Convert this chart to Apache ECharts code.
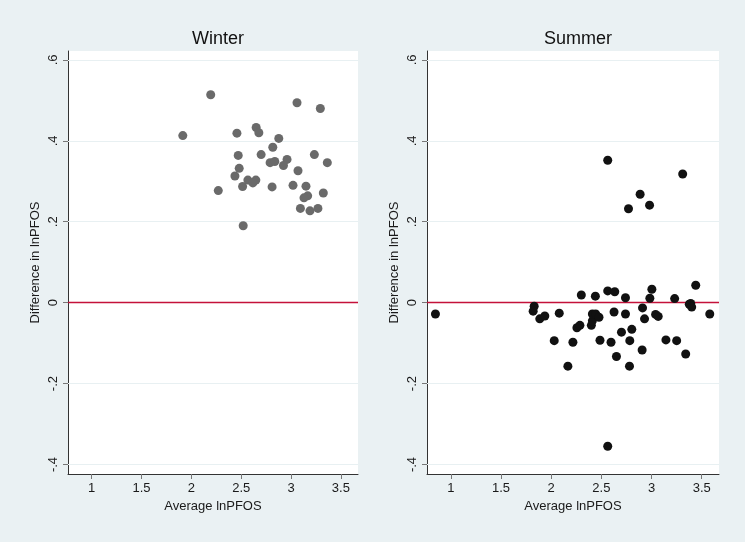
<!DOCTYPE html>
<html>
<head>
<meta charset="utf-8">
<script src="https://cdn.jsdelivr.net/npm/echarts@6/dist/echarts.min.js"></script>
<style>
html,body{margin:0;padding:0;background:#eaf1f3;}
#chart{width:745px;height:542px;}
</style>
</head>
<body>
<div id="chart"></div>
<script>
const panelTitles = ['Winter', 'Summer'];
const xTitle = 'Average lnPFOS';
const yTitle = 'Difference in lnPFOS';
const xTicks = [1, 1.5, 2, 2.5, 3, 3.5];
const yTicks = [-0.4, -0.2, 0, 0.2, 0.4, 0.6];

const winterX = [2.194, 3.06, 3.294, 1.914, 2.457, 2.65, 2.677, 2.877, 2.817, 2.47, 2.70, 3.234, 3.364, 2.79, 2.837, 2.96, 2.924, 2.48, 3.07, 2.437, 2.567, 2.647, 2.617, 2.514, 2.27, 2.81, 3.02, 3.15, 3.324, 3.167, 3.13, 3.094, 3.19, 3.27, 2.52];
const winterY = [0.514, 0.494, 0.480, 0.413, 0.419, 0.433, 0.420, 0.406, 0.384, 0.364, 0.366, 0.366, 0.346, 0.346, 0.349, 0.354, 0.339, 0.332, 0.326, 0.313, 0.303, 0.303, 0.296, 0.287, 0.277, 0.286, 0.290, 0.288, 0.271, 0.264, 0.259, 0.233, 0.227, 0.233, 0.190];

const summerX = [2.563, 3.31, 2.886, 2.77, 2.98, 3.44, 3.003, 2.563, 2.633, 2.30, 2.44, 2.74, 2.983, 3.23, 3.39, 3.376, 3.40, 3.58, 0.846, 1.83, 1.82, 1.886, 1.936, 2.08, 2.03, 2.216, 2.166, 2.256, 2.286, 2.40, 2.41, 2.41, 2.443, 2.476, 2.486, 2.596, 2.626, 2.65, 2.70, 2.74, 2.783, 2.803, 2.78, 2.91, 2.93, 2.906, 3.04, 3.066, 3.143, 3.25, 3.34, 2.563];
const summerY = [0.352, 0.318, 0.268, 0.232, 0.241, 0.043, 0.033, 0.029, 0.027, 0.019, 0.016, 0.012, 0.011, 0.010, -0.002, -0.004, -0.011, -0.028, -0.028, -0.009, -0.021, -0.040, -0.033, -0.026, -0.094, -0.098, -0.157, -0.062, -0.056, -0.056, -0.045, -0.028, -0.028, -0.036, -0.093, -0.098, -0.023, -0.133, -0.073, -0.028, -0.094, -0.066, -0.157, -0.013, -0.040, -0.117, -0.029, -0.034, -0.092, -0.094, -0.127, -0.355];

const FONT = "'Liberation Sans', Arial, Helvetica, sans-serif";
const zip = (xs, ys) => xs.map((x, i) => [x, ys[i]]);
const fmtY = v => {
  if (Math.abs(v) < 1e-9) return '0';
  let s = String(Math.round(v * 10) / 10);
  return s.replace('0.', '.');
};

const grids = [
  {left: 68, right: 387, top: 51, bottom: 68, backgroundColor: '#ffffff', show: true, borderWidth: 0},
  {left: 427, right: 26, top: 51, bottom: 68, backgroundColor: '#ffffff', show: true, borderWidth: 0}
];

const xAxes = grids.map((g, i) => ({
  type: 'value', gridIndex: i, min: 0.762, max: 3.672,
  name: xTitle, nameLocation: 'middle', nameGap: 23,
  nameTextStyle: {fontFamily: FONT, fontSize: 13, color: '#1a1a1a'},
  axisLine: {show: true, onZero: false, lineStyle: {color: '#333', width: 1}},
  axisTick: {show: true, length: 5, customValues: xTicks, lineStyle: {color: '#777'}},
  axisLabel: {customValues: xTicks, fontFamily: FONT, fontSize: 13, color: '#1a1a1a', margin: 8,
              formatter: v => String(v)},
  splitLine: {show: false}
}));

const yAxes = grids.map((g, i) => ({
  type: 'value', gridIndex: i, min: -0.4235, max: 0.622,
  name: yTitle, nameLocation: 'middle', nameGap: 26, nameRotate: 90,
  nameTextStyle: {fontFamily: FONT, fontSize: 13, color: '#1a1a1a'},
  axisLine: {show: true, onZero: false, lineStyle: {color: '#333', width: 1}},
  axisTick: {show: true, length: 5, customValues: yTicks, lineStyle: {color: '#777'}},
  axisLabel: {customValues: yTicks, rotate: 90, fontFamily: FONT, fontSize: 13, color: '#1a1a1a', margin: 8,
              formatter: fmtY},
  splitLine: {show: false}
}));

const refSeries = grids.map((g, i) => ({
  type: 'line', xAxisIndex: i, yAxisIndex: i, data: [], z: 1, silent: true,
  markLine: {
    silent: true, symbol: ['none', 'none'], label: {show: false},
    animation: false,
    data: yTicks.filter(v => v !== 0).map(v => ({yAxis: v, lineStyle: {color: '#e8f0f2', width: 1.2, type: 'solid'}}))
      .concat([{yAxis: 0, lineStyle: {color: '#c4123a', width: 1.3, type: 'solid'}}])
  }
}));

const option = {
  backgroundColor: '#eaf1f3',
  animation: false,
  title: [
    {text: panelTitles[0], left: 213, top: 25, textAlign: 'center',
     textStyle: {fontFamily: FONT, fontSize: 18, fontWeight: 'normal', color: '#111'}},
    {text: panelTitles[1], left: 573, top: 25, textAlign: 'center',
     textStyle: {fontFamily: FONT, fontSize: 18, fontWeight: 'normal', color: '#111'}}
  ],
  grid: grids,
  xAxis: xAxes,
  yAxis: yAxes,
  series: refSeries.concat([
    {type: 'scatter', xAxisIndex: 0, yAxisIndex: 0, data: zip(winterX, winterY), symbolSize: 9, z: 5,
     itemStyle: {color: '#6a6a6a', opacity: 1}},
    {type: 'scatter', xAxisIndex: 1, yAxisIndex: 1, data: zip(summerX, summerY), symbolSize: 9, z: 5,
     itemStyle: {color: '#111111', opacity: 1}}
  ])
};

const chart = echarts.init(document.getElementById('chart'), null, {renderer: 'canvas'});
chart.setOption(option);
</script>
</body>
</html>
